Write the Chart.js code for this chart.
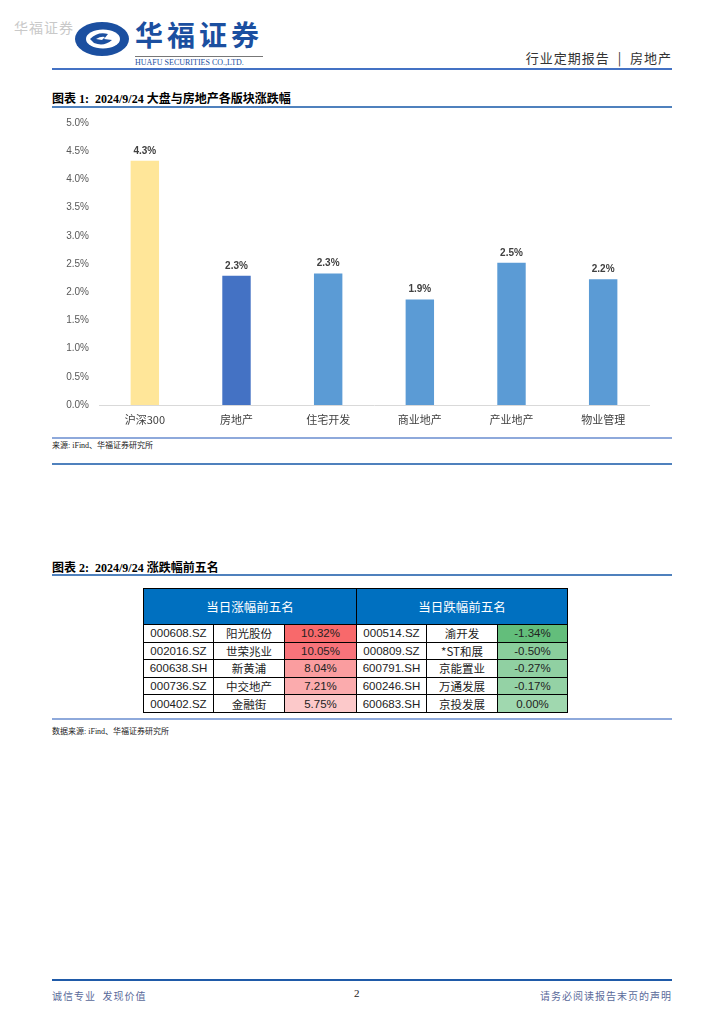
<!DOCTYPE html>
<html>
<head>
<meta charset="utf-8">
<script src="https://cdn.jsdelivr.net/npm/chart.js@4.4.1/dist/chart.umd.min.js"></script>
<style>
  html,body{margin:0;padding:0;background:#fff;}
  body{width:724px;height:1024px;position:relative;overflow:hidden;font-family:"Noto Sans CJK SC","Liberation Sans",sans-serif;}
  .abs{position:absolute;}
  .hline{position:absolute;left:52px;width:620px;}
  .title{position:absolute;left:52px;font-size:12px;font-weight:bold;color:#000;font-family:"Liberation Serif","Noto Sans CJK SC",serif;white-space:nowrap;}
  .src{position:absolute;left:52px;font-size:8px;color:#222;font-family:"Liberation Serif","Noto Sans CJK SC",serif;white-space:nowrap;}
  table{border-collapse:collapse;position:absolute;left:143px;top:588px;table-layout:fixed;font-family:"Liberation Sans","Noto Sans CJK SC",sans-serif;}
  td{border:1px solid #000;height:16.6px;padding:0;text-align:center;font-size:11.5px;color:#222;line-height:16px;}
  th{background:#0070C0;color:#fff;font-weight:normal;font-size:12.5px;height:33px;border:1px solid #000;font-family:"Noto Sans CJK SC",sans-serif;}
  td.nm{font-family:"Noto Sans CJK SC",sans-serif;}
</style>
</head>
<body>
<!-- watermark -->
<div class="abs" style="left:14px;top:17px;font-size:14px;color:#c9c9c9;letter-spacing:1px;">华福证券</div>
<!-- logo -->
<svg class="abs" style="left:74px;top:21px" width="56" height="36" viewBox="0 0 56 36">
  <ellipse cx="28" cy="18" rx="27" ry="17" fill="#1B4FA0"/>
  <ellipse cx="29" cy="18" rx="17" ry="9.5" fill="#fff"/>
  <path d="M16 18 Q24 10 34 13 L30 18 L38 19 Q30 26 20 22 Z" fill="#1B4FA0"/>
  <path d="M22 18 Q27 15 31 16 L28 19 Z" fill="#fff"/>
</svg>
<div class="abs" style="left:135px;top:14px;font-size:28px;font-weight:bold;color:#1B4FA0;letter-spacing:4px;font-family:'Noto Sans CJK SC';line-height:40px;">华福证券</div>
<div class="abs" style="left:135px;top:56px;width:128px;border-top:1px solid #777;"></div>
<div class="abs" style="left:135px;top:58px;font-size:8px;color:#1B4FA0;font-family:'Liberation Serif';letter-spacing:0px;white-space:nowrap;line-height:10px;">HUAFU SECURITIES CO.,LTD.</div>
<div class="abs" style="right:52px;top:48px;font-size:13px;color:#333;letter-spacing:1px;white-space:nowrap;line-height:20px;">行业定期报告&nbsp;&nbsp;|&nbsp;&nbsp;房地产</div>
<div class="hline" style="top:68px;height:2px;background:#4472C4;"></div>

<div class="title" style="top:89px;">图表 1:&nbsp;&nbsp;2024/9/24 大盘与房地产各版块涨跌幅</div>
<div class="hline" style="top:106px;height:1.5px;background:#4F81BD;"></div>

<div class="abs" style="left:52px;top:107px;width:620px;height:330px;">
  <canvas id="c"></canvas>
</div>
<div class="hline" style="top:437px;height:2px;background:#8EA9DB;"></div>
<div class="src" style="top:439px;">来源:&nbsp;iFind、华福证券研究所</div>
<div class="hline" style="top:463px;height:1.5px;background:#4F81BD;"></div>

<div class="title" style="top:558px;">图表 2:&nbsp;&nbsp;2024/9/24 涨跌幅前五名</div>
<div class="hline" style="top:574px;height:1.5px;background:#4F81BD;"></div>

<table id="tbl"></table>

<div class="hline" style="top:718px;height:1.5px;background:#8EA9DB;"></div>
<div class="src" style="top:725px;">数据来源:&nbsp;iFind、华福证券研究所</div>

<div class="hline" style="top:979px;height:2px;background:#1F5AA8;"></div>
<div class="abs" style="left:52px;top:988px;font-size:10px;color:#5a6a9a;letter-spacing:1px;white-space:nowrap;">诚信专业&nbsp;&nbsp;发现价值</div>
<div class="abs" style="left:354px;top:987px;font-size:11px;color:#222;font-family:'Liberation Serif';">2</div>
<div class="abs" style="right:52px;top:988px;font-size:10px;color:#5a6a9a;letter-spacing:1px;white-space:nowrap;">请务必阅读报告末页的声明</div>

<script>
// ---- Chart 1 data ----
const categories = ["沪深300", "房地产", "住宅开发", "商业地产", "产业地产", "物业管理"];
const changePct = [4.33, 2.29, 2.33, 1.87, 2.52, 2.23];
const barColors = ["#FFE699", "#4472C4", "#5B9BD5", "#5B9BD5", "#5B9BD5", "#5B9BD5"];
const yTickMax = 5.0;
const yTickStep = 0.5;

// ---- Table data ----
const gainCodes = ["000608.SZ", "002016.SZ", "600638.SH", "000736.SZ", "000402.SZ"];
const gainNames = ["阳光股份", "世荣兆业", "新黄浦", "中交地产", "金融街"];
const gainPct = ["10.32%", "10.05%", "8.04%", "7.21%", "5.75%"];
const gainColors = ["#F8696B", "#F8737A", "#FA9D9F", "#FBABAD", "#FCC9CA"];
const lossCodes = ["000514.SZ", "000809.SZ", "600791.SH", "600246.SH", "600683.SH"];
const lossNames = ["渝开发", "*ST和展", "京能置业", "万通发展", "京投发展"];
const lossPct = ["-1.34%", "-0.50%", "-0.27%", "-0.17%", "0.00%"];
const lossColors = ["#63BE7B", "#8ACE9C", "#90D0A2", "#94D2A5", "#A0D8AF"];
const headers = ["当日涨幅前五名", "当日跌幅前五名"];

// build table
(function(){
  const t = document.getElementById('tbl');
  let h = '<colgroup>' + [70,71,72,70,71,70].map(w=>'<col style="width:'+w+'px">').join('') + '</colgroup>';
  h += '<tr><th colspan="3">'+headers[0]+'</th><th colspan="3">'+headers[1]+'</th></tr>';
  for (let i=0;i<gainCodes.length;i++){
    h += '<tr>' +
      '<td>'+gainCodes[i]+'</td><td class="nm">'+gainNames[i]+'</td>' +
      '<td style="background:'+gainColors[i]+'">'+gainPct[i]+'</td>' +
      '<td>'+lossCodes[i]+'</td><td class="nm">'+lossNames[i]+'</td>' +
      '<td style="background:'+lossColors[i]+'">'+lossPct[i]+'</td></tr>';
  }
  t.innerHTML = h;
})();

const labelPlugin = {
  id: 'barLabels',
  afterDatasetsDraw(chart) {
    const ctx = chart.ctx;
    const meta = chart.getDatasetMeta(0);
    ctx.save();
    ctx.font = 'bold 10px "Liberation Sans", "Noto Sans CJK SC", sans-serif';
    ctx.fillStyle = '#404040';
    ctx.textAlign = 'center';
    ctx.textBaseline = 'bottom';
    meta.data.forEach((el, i) => {
      ctx.fillText(changePct[i].toFixed(1) + '%', el.x, el.y - 5);
    });
    ctx.restore();
  }
};

new Chart(document.getElementById('c'), {
  type: 'bar',
  data: {
    labels: categories,
    datasets: [{
      data: changePct,
      backgroundColor: barColors,
      borderWidth: 0,
      categoryPercentage: 1.0,
      barPercentage: 0.31
    }]
  },
  options: {
    responsive: true,
    maintainAspectRatio: false,
    animation: false,
    layout: { padding: { top: 13, right: 23, left: 0, bottom: 0 } },
    plugins: { legend: { display: false }, tooltip: { enabled: false } },
    scales: {
      y: {
        min: 0, max: yTickMax,
        afterFit: (s) => { s.width = 47; },
        grid: { display: false, drawTicks: false },
        border: { display: false },
        ticks: {
          stepSize: yTickStep,
          padding: 10,
          color: '#595959',
          font: { size: 10, family: '"Liberation Sans", sans-serif' },
          callback: (v) => Number(v).toFixed(1) + '%'
        }
      },
      x: {
        afterFit: (s) => { s.height = 32; },
        grid: { display: false, drawTicks: false },
        border: { display: true, color: '#D9D9D9', width: 1 },
        ticks: {
          padding: 8,
          color: '#404040',
          font: { size: 11, family: '"Noto Sans CJK SC", sans-serif' },
          maxRotation: 0
        }
      }
    }
  },
  plugins: [labelPlugin]
});
</script>
</body>
</html>
